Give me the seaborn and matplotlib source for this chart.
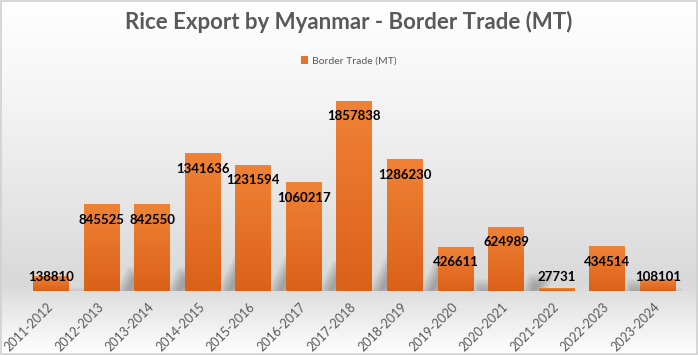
import numpy as np
import pandas as pd
import matplotlib
matplotlib.use("Agg")
import matplotlib.pyplot as plt
import seaborn as sns
from matplotlib.patches import Patch, Polygon
from matplotlib.colors import LinearSegmentedColormap

years = ["2011-2012", "2012-2013", "2013-2014", "2014-2015", "2015-2016", "2016-2017",
         "2017-2018", "2018-2019", "2019-2020", "2020-2021", "2021-2022", "2022-2023", "2023-2024"]
border_trade = [138810, 845525, 842550, 1341636, 1231594, 1060217,
                1857838, 1286230, 426611, 624989, 27731, 434514, 108101]
series_name = "Border Trade (MT)"
title = "Rice Export by Myanmar - Border Trade (MT)"

sns.set_theme(style="white")
plt.rcParams['font.family'] = ['Lato', 'DejaVu Sans']

df = pd.DataFrame({"year": years, "value": border_trade})

fig = plt.figure(figsize=(6.98, 3.55), dpi=100)
fig.patch.set_facecolor("white")

# background gradient
bg = fig.add_axes([0, 0, 1, 1], zorder=-10)
stops = [(0.0, "#ffffff"), (0.22, "#f7f7f7"), (0.56, "#e6e6e6"), (0.80, "#d9d9d9"),
         (0.85, "#e3e3e3"), (1.0, "#ffffff")]
bgcmap = LinearSegmentedColormap.from_list("bg", stops)
grad = np.linspace(0, 1, 400).reshape(-1, 1)
bg.imshow(grad, cmap=bgcmap, aspect="auto", extent=[0, 1, 0, 1], origin="upper")
bg.set_xlim(0, 1); bg.set_ylim(0, 1)
bg.axis("off")
bg.add_patch(plt.Rectangle((0.001, 0.002), 0.997, 0.995, fill=False, edgecolor="#d0d0d0",
                           linewidth=1.2, transform=bg.transAxes))

ax = fig.add_axes([0.0368, 0.180, 0.9417, 0.576])
ax.set_facecolor("none")
sns.barplot(data=df, x="year", y="value", color="#E8742B", width=0.71, ax=ax,
            saturation=1, errorbar=None)

ax.set_ylim(0, 2000000)
xlim = ax.get_xlim()

# pixel -> data conversions (approximate, from axes geometry)
ax_w_px = 0.9417 * 698
ax_h_px = 0.576 * 355
px_x = (xlim[1] - xlim[0]) / ax_w_px
px_y = 2000000 / ax_h_px

barcmap = LinearSegmentedColormap.from_list("bar", ["#EF8236", "#DB6118"])
for p in list(ax.patches):
    x, w, h = p.get_x(), p.get_width(), p.get_height()
    p.set_facecolor("none")
    p.set_edgecolor("none")
    # soft perspective shadow (upper-right), mostly hidden behind the bars
    xr = x + w
    H = 0.28 * h
    d = (H / px_y) / 2.0 * px_x
    W = 0.75 * w
    a = 4 * px_x
    for k in range(10):
        s = k * 1.3 * px_x
        sy = k * 1.3 * px_y
        top = max(H - sy, 0)
        if top <= 0:
            break
        dd = d * top / H
        poly = Polygon([(xr - a + s, 0), (xr - a + W - s, 0),
                        (xr - a + W - s + dd, top), (xr - a + s + dd, top)],
                       closed=True, facecolor="black", edgecolor="none", alpha=0.028,
                       zorder=1.5)
        ax.add_patch(poly)
    ax.imshow(np.linspace(0, 1, 100).reshape(-1, 1), cmap=barcmap, aspect="auto",
              extent=[x, x + w, 0, h], origin="upper", zorder=2)
ax.set_xlim(xlim)
ax.set_ylim(0, 2000000)

off = 146700
minpos = 137000
for i, v in enumerate(border_trade):
    ax.text(i, max(v - off, minpos), f"{v}", ha="center", va="center",
            fontsize=9.5, fontweight="bold", color="black", zorder=5)

for s in ax.spines.values():
    s.set_visible(False)
ax.set_yticks([])
ax.set_xlabel("")
ax.set_ylabel("")
ax.tick_params(axis="x", length=0, pad=10)
ax.set_xticks(range(len(years)))
ax.set_xticklabels(years, rotation=45, ha="right", va="center",
                   rotation_mode="anchor", fontsize=9, color="#595959")

fig.text(0.5, 0.938, title, ha="center", va="center", fontsize=16, fontweight="bold",
         color="#595959")
fig.legend(handles=[Patch(facecolor="#E8742B", edgecolor="none", label=series_name)],
           loc="center", bbox_to_anchor=(0.5, 0.828), frameon=False, fontsize=7.5,
           handlelength=0.7, handleheight=0.7, handletextpad=0.4, labelcolor="#595959")

fig.savefig("out.png", dpi=100)
